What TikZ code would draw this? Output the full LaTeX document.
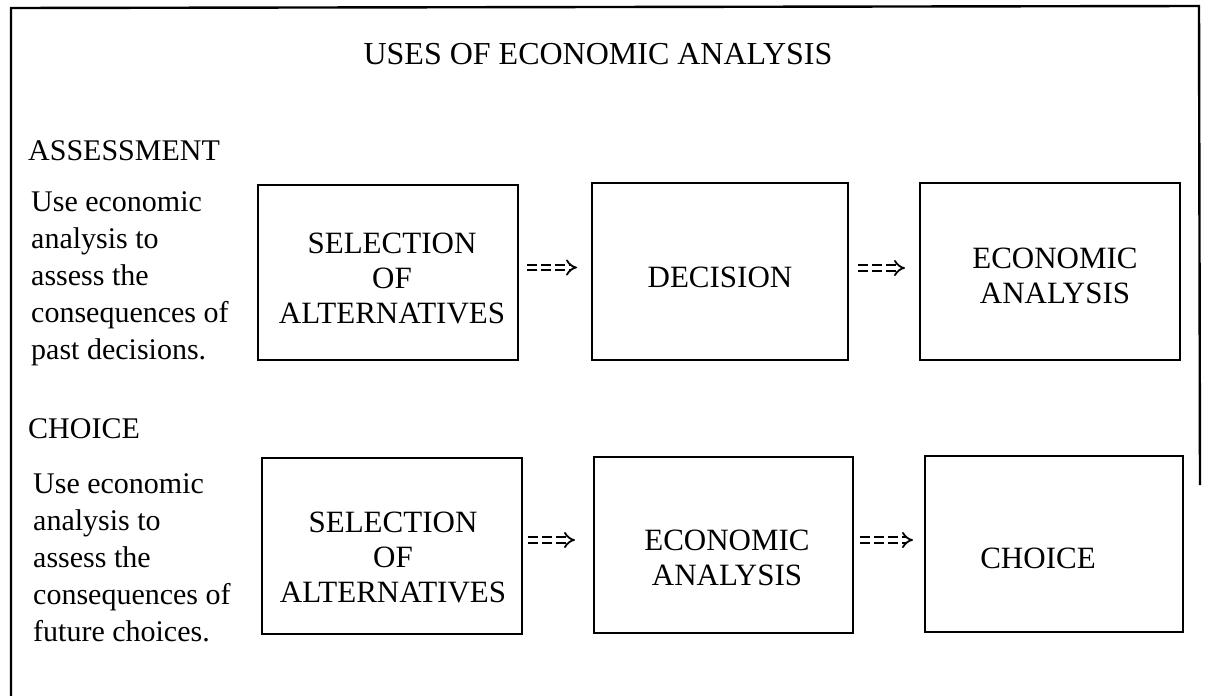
\documentclass[tikz,border=0pt]{standalone}
\usepackage{fontspec}
\setmainfont{Liberation Serif}
\usetikzlibrary{arrows.meta}
\begin{document}
\begin{tikzpicture}[x=1pt,y=-1pt,
  frame/.style={line width=2.4pt, line join=miter},
  box/.style={draw, line width=1.9pt, inner sep=0pt, outer sep=0pt},
  boxtext/.style={anchor=base, inner sep=0pt, font=\fontsize{31}{35}\selectfont},
  sidetext/.style={anchor=base west, inner sep=0pt, font=\fontsize{30}{37}\selectfont},
  heading/.style={anchor=base west, inner sep=0pt, font=\fontsize{30}{36}\selectfont},
  dblarrow/.style={double, double distance=3.6pt, line width=1.8pt, dash pattern=on 10pt off 4pt, -{Implies}}
]
\useasboundingbox (0,0) rectangle (1205,696);
% outer frame (open at the bottom and lower right)
\coordinate (fbl) at (11,696);
\coordinate (ftl) at (11,8);
\coordinate (ftr) at (1199,6);
\coordinate (fbr) at (1200,485);
\draw[frame] (fbl) -- (ftl) -- (ftr) -- (fbr);

% title
\node[anchor=base, inner sep=0pt, font=\fontsize{32}{38}\selectfont] (title) at (598,64) {USES OF ECONOMIC ANALYSIS};

% headings
\node[heading] (hA) at (28,160) {ASSESSMENT};
\node[heading] (hC) at (28,438) {CHOICE};

% side texts
\node[sidetext] (tA) at (31,211) {\begin{tabular}[t]{@{}l@{}}Use economic\\analysis to\\assess the\\consequences of\\past decisions.\end{tabular}};
\node[sidetext] (tC) at (33,493) {\begin{tabular}[t]{@{}l@{}}Use economic\\analysis to\\assess the\\consequences of\\future choices.\end{tabular}};

% boxes, row 1
\node[box, minimum width=260pt, minimum height=175pt] (a1) at (388,272.5) {};
\node[box, minimum width=256pt, minimum height=177pt] (b1) at (720,271.5) {};
\node[box, minimum width=260pt, minimum height=177pt] (c1) at (1050,271.5) {};
% boxes, row 2
\node[box, minimum width=260pt, minimum height=176pt] (a2) at (392,546) {};
\node[box, minimum width=259pt, minimum height=176pt] (b2) at (723.5,545) {};
\node[box, minimum width=258pt, minimum height=176pt] (c2) at (1054,544) {};

% box texts
\node[boxtext] (a1t) at (392,253) {\begin{tabular}[t]{@{}c@{}}SELECTION\\OF\\ALTERNATIVES\end{tabular}};
\node[boxtext] (b1t) at (720,287) {DECISION};
\node[boxtext] (c1t) at (1055,268) {\begin{tabular}[t]{@{}c@{}}ECONOMIC\\ANALYSIS\end{tabular}};
\node[boxtext] (a2t) at (393,532) {\begin{tabular}[t]{@{}c@{}}SELECTION\\OF\\ALTERNATIVES\end{tabular}};
\node[boxtext] (b2t) at (727,550) {\begin{tabular}[t]{@{}c@{}}ECONOMIC\\ANALYSIS\end{tabular}};
\node[boxtext] (c2t) at (1038,568) {CHOICE};

% connectors
\draw[dblarrow, shorten <=9pt, shorten >=15pt] ([yshift=5pt]a1.east) -- ([yshift=4pt]b1.west);
\draw[dblarrow, shorten <=10pt, shorten >=15pt] ([yshift=3.5pt]b1.east) -- ([yshift=3.5pt]c1.west);
\draw[dblarrow, shorten <=6pt, shorten >=19pt] ([yshift=6pt]a2.east) -- ([yshift=5pt]b2.west);
\draw[dblarrow, shorten <=7pt, shorten >=12pt] ([yshift=5pt]b2.east) -- ([yshift=4pt]c2.west);
\end{tikzpicture}
\end{document}
